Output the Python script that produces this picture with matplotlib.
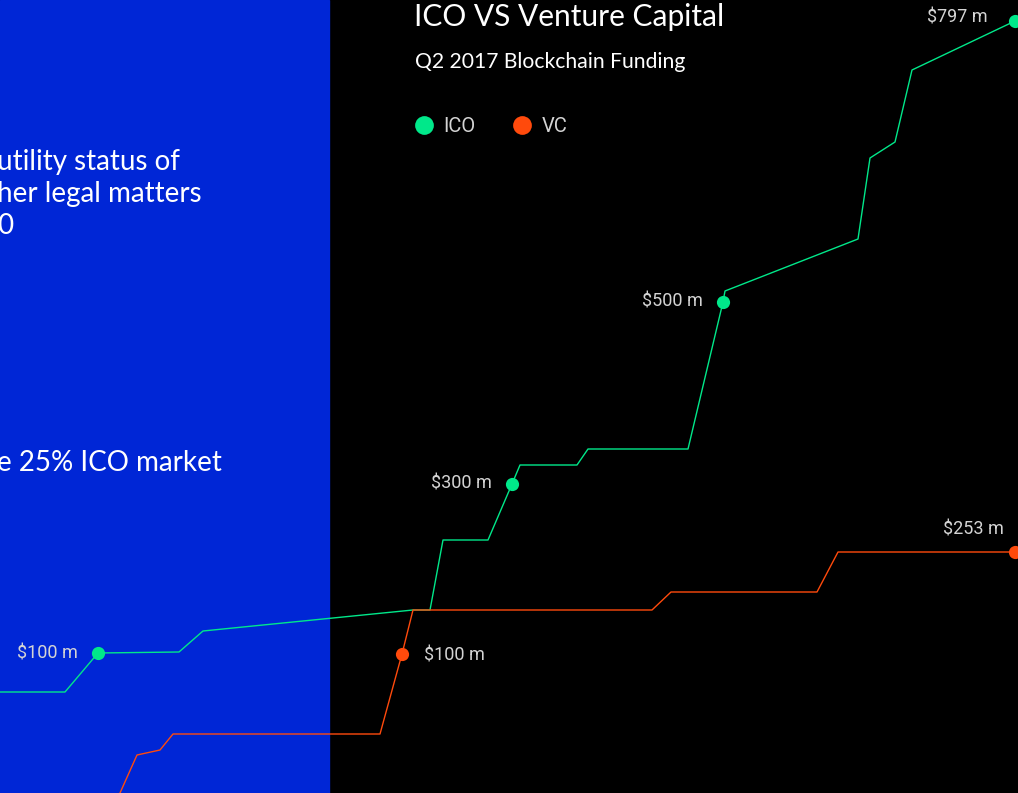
import matplotlib.pyplot as plt

# chart units: x = position along the quarter, y = height of the cumulative funding line
ico_x = [0, 65, 98, 179, 203, 413, 430, 443, 488, 512, 520, 577, 588, 688, 723, 725, 858, 870, 895, 912, 1015]
ico_y = [101, 101, 140, 141, 162, 183, 183, 253, 253, 309, 328, 328, 344, 344, 491, 502, 554, 635, 651, 723, 772]
vc_x = [120, 137, 160, 173, 380, 402, 413, 652, 671, 817, 838, 1015]
vc_y = [0, 38, 43, 59, 59, 139, 183, 183, 201, 201, 241, 241]

# labelled points: (index into series, label text)
ico_marks = [(2, "$100 m"), (9, "$300 m"), (14, "$500 m"), (20, "$797 m")]
vc_marks = [(5, "$100 m"), (11, "$253 m")]

side_text = ["utility status of", "her legal matters", "0", "e 25% ICO market"]
side_text_y = [631, 599, 567, 330]

GREEN = "#00e88a"
RED = "#ff4a0c"
BLUE = "#0026d6"
LABEL = "#d4d4d4"

fig = plt.figure(figsize=(10.18, 7.93), dpi=100)
fig.patch.set_facecolor("black")
ax = fig.add_axes([0, 0, 1, 1])
ax.set_facecolor("black")
ax.set_xlim(0, 1018)
ax.set_ylim(0, 793)
ax.axis("off")

# blue side panel
ax.axvspan(0, 329, color=BLUE, zorder=0)

for t, y in zip(side_text, side_text_y):
    ax.text(-3, y, t, color="white", fontsize=20, family="Lato", va="center", ha="left")

ax.plot(ico_x, ico_y, color=GREEN, lw=1.0, zorder=2)
ax.plot(vc_x, vc_y, color=RED, lw=1.0, zorder=2)

for i, lab in ico_marks:
    ax.plot(ico_x[i], ico_y[i], "o", color=GREEN, ms=9.5, mec="none", zorder=3, clip_on=False)
    dy = 3 if i == 20 else 0
    ax.text(ico_x[i] - 20 - (7 if i == 20 else 0), ico_y[i] + dy, lab, color=LABEL, fontsize=13,
            family="Roboto", ha="right", va="center")

for i, lab in vc_marks:
    ax.plot(vc_x[i], vc_y[i], "o", color=RED, ms=9.5, mec="none", zorder=3, clip_on=False)
    if i == 11:
        ax.text(vc_x[i] - 11, vc_y[i] + 22, lab, color=LABEL, fontsize=13,
                family="Roboto", ha="right", va="center")
    else:
        ax.text(vc_x[i] + 22, vc_y[i] - 1, lab, color=LABEL, fontsize=13,
                family="Roboto", ha="left", va="center")

# title, subtitle, legend
ax.text(414, 776, "ICO VS Venture Capital", color="white", fontsize=21.5, family="Lato",
        ha="left", va="center")
ax.text(415, 731, "Q2 2017 Blockchain Funding", color="white", fontsize=15.2, family="Lato",
        ha="left", va="center")
ax.plot(424, 668, "o", color=GREEN, ms=13.5, mec="none")
ax.text(443, 667, "ICO", color=LABEL, fontsize=14.5, family="Roboto", ha="left", va="center")
ax.plot(522, 668, "o", color=RED, ms=13.5, mec="none")
ax.text(542, 667, "VC", color=LABEL, fontsize=14.5, family="Roboto", ha="left", va="center")

fig.savefig("out.png", dpi=100, facecolor=fig.get_facecolor())
